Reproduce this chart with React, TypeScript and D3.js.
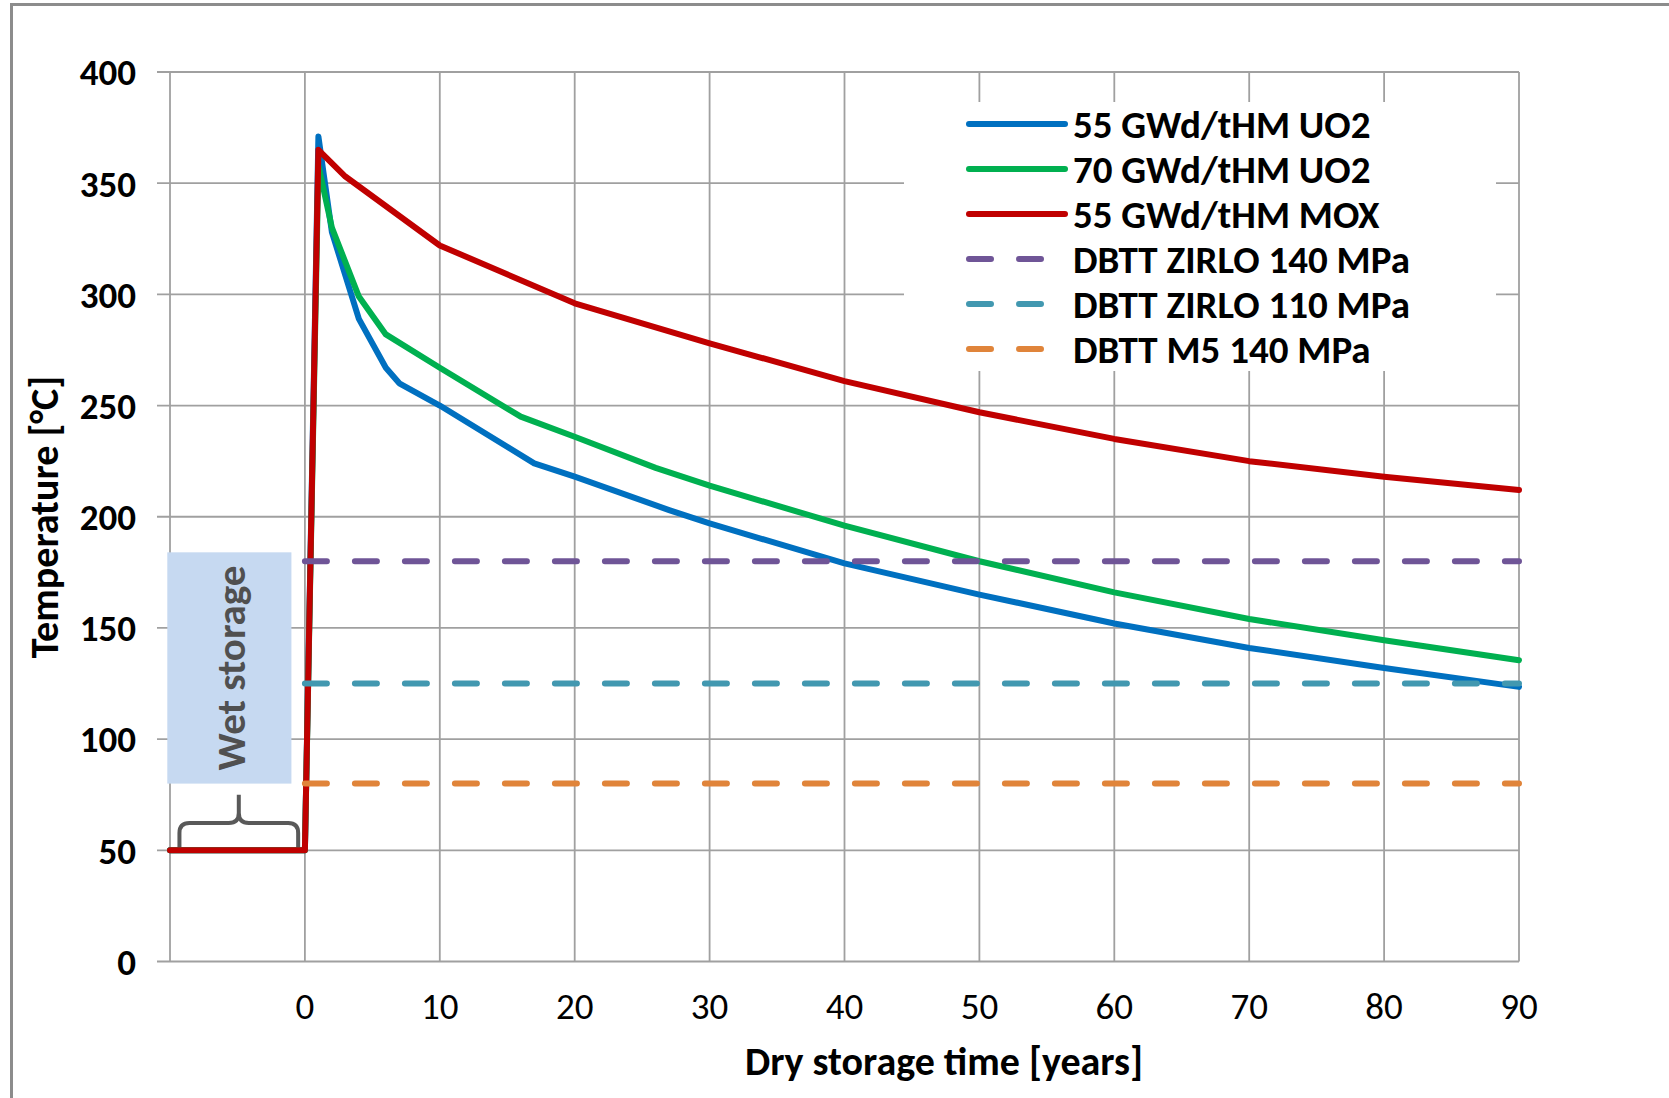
import { useRef, useEffect } from 'react';
import * as d3 from 'd3';

// years of dry storage (negative = wet storage in the pool)
const uo2_55_years = [-10, 0, 1, 2, 4, 6, 7, 10, 17, 20, 27, 30, 40, 50, 60, 70, 80, 90];
const uo2_55_temp = [50, 50, 371, 328, 289, 267, 260, 250, 224, 218, 203, 197, 179, 165, 152, 141, 132, 123.5];

const uo2_70_years = [-10, 0, 1, 2, 4, 6, 10, 16, 20, 26, 30, 40, 50, 60, 70, 80, 90];
const uo2_70_temp = [50, 50, 358, 330, 299, 282, 267, 245, 236, 222, 214, 196, 180, 166, 154, 144.5, 135.5];

const mox_55_years = [-10, 0, 1, 3, 10, 20, 30, 40, 50, 60, 70, 80, 90];
const mox_55_temp = [50, 50, 365, 353, 322, 296, 278, 261, 247, 235, 225, 218, 212];

const dbttNames = ['DBTT ZIRLO 140 MPa', 'DBTT ZIRLO 110 MPa', 'DBTT M5 140 MPa'];
const dbttTemps = [180, 125, 80];
const dbttRange = [0, 90];

const xTicks = [0, 10, 20, 30, 40, 50, 60, 70, 80, 90];
const xGrid = [-10, 0, 10, 20, 30, 40, 50, 60, 70, 80, 90];
const yTicks = [0, 50, 100, 150, 200, 250, 300, 350, 400];

// wet storage annotation, in data units
const wetBox = { x0: -10.2, x1: -1, y0: 80, y1: 184 };
const braceSpan = { x0: -9.3, x1: -0.5, yBase: 50, yFlat: 62.3, yTip: 75 };

const FONT = 'Carlito, Calibri, Lato, sans-serif';

export default function App() {
    const svgRef = useRef<SVGSVGElement>(null);

    useEffect(() => {
        if (!svgRef.current) return;
        const W = 1669, H = 1098;
        const svg = d3.select(svgRef.current);
        svg.selectAll('*').remove();
        svg.attr('width', W).attr('height', H);

        const x = d3.scaleLinear().domain([-10, 90]).range([170, 1519]);
        const y = d3.scaleLinear().domain([0, 400]).range([961.5, 72]);

        // outer frame (only top & left show)
        svg.append('path')
            .attr('d', `M11.5,${H} L11.5,4.5 L${W},4.5`)
            .attr('fill', 'none')
            .attr('stroke', '#8c8c8c')
            .attr('stroke-width', 3);

        const grid = svg.append('g');
        grid.selectAll('line.h')
            .data(yTicks)
            .enter()
            .append('line')
            .attr('x1', x(-10) - 13)
            .attr('x2', x(90))
            .attr('y1', d => y(d))
            .attr('y2', d => y(d))
            .attr('stroke', '#a0a0a0')
            .attr('stroke-width', 1.8);
        grid.selectAll('line.v')
            .data(xGrid)
            .enter()
            .append('line')
            .attr('x1', d => x(d))
            .attr('x2', d => x(d))
            .attr('y1', y(400))
            .attr('y2', y(0))
            .attr('stroke', '#a0a0a0')
            .attr('stroke-width', 1.8);

        // y tick labels
        svg.append('g').selectAll('text')
            .data(yTicks)
            .enter()
            .append('text')
            .attr('x', 136)
            .attr('y', d => y(d))
            .attr('dy', '0.36em')
            .attr('text-anchor', 'end')
            .attr('font-family', FONT)
            .attr('font-weight', 'bold')
            .attr('font-size', '37px')
            .attr('fill', '#000')
            .text(d => d);

        // x tick labels
        svg.append('g').selectAll('text')
            .data(xTicks)
            .enter()
            .append('text')
            .attr('x', d => x(d))
            .attr('y', 1019)
            .attr('text-anchor', 'middle')
            .attr('font-family', FONT)
            .attr('font-size', '37px')
            .attr('fill', '#000')
            .text(d => d);

        // axis titles
        svg.append('text')
            .attr('x', 944)
            .attr('y', 1075)
            .attr('text-anchor', 'middle')
            .attr('font-family', FONT)
            .attr('font-weight', 'bold')
            .attr('font-size', '40px')
            .text('Dry storage time [years]');
        svg.append('text')
            .attr('transform', 'translate(44,517) rotate(-90)')
            .attr('dy', '0.36em')
            .attr('text-anchor', 'middle')
            .attr('font-family', FONT)
            .attr('font-weight', 'bold')
            .attr('font-size', '40px')
            .text('Temperature [°C]');

        // wet storage box + brace
        svg.append('rect')
            .attr('x', x(wetBox.x0))
            .attr('y', y(wetBox.y1))
            .attr('width', x(wetBox.x1) - x(wetBox.x0))
            .attr('height', y(wetBox.y0) - y(wetBox.y1))
            .attr('fill', '#c6d9f1');
        svg.append('text')
            .attr('transform', `translate(${(x(wetBox.x0) + x(wetBox.x1)) / 2 + 1},${(y(wetBox.y0) + y(wetBox.y1)) / 2}) rotate(-90)`)
            .attr('dy', '0.36em')
            .attr('text-anchor', 'middle')
            .attr('font-family', FONT)
            .attr('font-weight', 'bold')
            .attr('font-size', '41px')
            .attr('fill', '#505050')
            .text('Wet storage');

        const bx0 = x(braceSpan.x0), bx1 = x(braceSpan.x1), bm = (bx0 + bx1) / 2;
        const by0 = y(braceSpan.yBase), byf = y(braceSpan.yFlat), byt = y(braceSpan.yTip);
        const r = 10;
        const brace = d3.path();
        brace.moveTo(bx0, by0);
        brace.lineTo(bx0, byf + r);
        brace.quadraticCurveTo(bx0, byf, bx0 + r, byf);
        brace.lineTo(bm - r, byf);
        brace.quadraticCurveTo(bm, byf, bm, byf - r);
        brace.lineTo(bm, byt);
        brace.moveTo(bm, byf - r);
        brace.quadraticCurveTo(bm, byf, bm + r, byf);
        brace.lineTo(bx1 - r, byf);
        brace.quadraticCurveTo(bx1, byf, bx1, byf + r);
        brace.lineTo(bx1, by0);
        svg.append('path')
            .attr('d', brace.toString())
            .attr('fill', 'none')
            .attr('stroke', '#595959')
            .attr('stroke-width', 4)
            .attr('stroke-linejoin', 'round');

        // series
        const series = [
            { name: '55 GWd/tHM UO2', color: '#0070c0', xs: uo2_55_years, ys: uo2_55_temp },
            { name: '70 GWd/tHM UO2', color: '#00b050', xs: uo2_70_years, ys: uo2_70_temp },
            { name: '55 GWd/tHM MOX', color: '#c00000', xs: mox_55_years, ys: mox_55_temp },
        ];
        const dbttColors = ['#6f5597', '#4298b0', '#e0843a'];

        const line = d3.line<[number, number]>()
            .x(d => x(d[0]))
            .y(d => y(d[1]));

        series.forEach(s => {
            const pts = s.xs.map((v, i) => [v, s.ys[i]] as [number, number]);
            svg.append('path')
                .attr('d', line(pts))
                .attr('fill', 'none')
                .attr('stroke', s.color)
                .attr('stroke-width', 6)
                .attr('stroke-linejoin', 'round')
                .attr('stroke-linecap', 'round');
        });

        dbttTemps.forEach((t, i) => {
            svg.append('path')
                .attr('d', line([[dbttRange[0], t], [dbttRange[1], t]]))
                .attr('fill', 'none')
                .attr('stroke', dbttColors[i])
                .attr('stroke-width', 6)
                .attr('stroke-linecap', 'round')
                .attr('stroke-dasharray', '22 28');
        });

        // legend
        const legend = svg.append('g');
        legend.append('rect')
            .attr('x', 904)
            .attr('y', 102)
            .attr('width', 592)
            .attr('height', 269)
            .attr('fill', '#fff');

        const entries = [
            ...series.map(s => ({ name: s.name, color: s.color, dashed: false })),
            ...dbttNames.map((n, i) => ({ name: n, color: dbttColors[i], dashed: true })),
        ];
        entries.forEach((e, i) => {
            const ly = 124 + i * 45;
            legend.append('line')
                .attr('x1', 969)
                .attr('x2', 1065)
                .attr('y1', ly)
                .attr('y2', ly)
                .attr('stroke', e.color)
                .attr('stroke-width', 6)
                .attr('stroke-linecap', 'round')
                .attr('stroke-dasharray', e.dashed ? '22 28' : null);
            legend.append('text')
                .attr('x', 1073)
                .attr('y', ly)
                .attr('dy', '0.36em')
                .attr('font-family', FONT)
                .attr('font-weight', 'bold')
                .attr('font-size', '39px')
                .attr('fill', '#000')
                .text(e.name);
        });
    }, []);

    return (
        <div style={{ position: 'absolute', left: 0, top: 0, background: '#fff' }}>
            <svg ref={svgRef} style={{ display: 'block' }} />
        </div>
    );
}
